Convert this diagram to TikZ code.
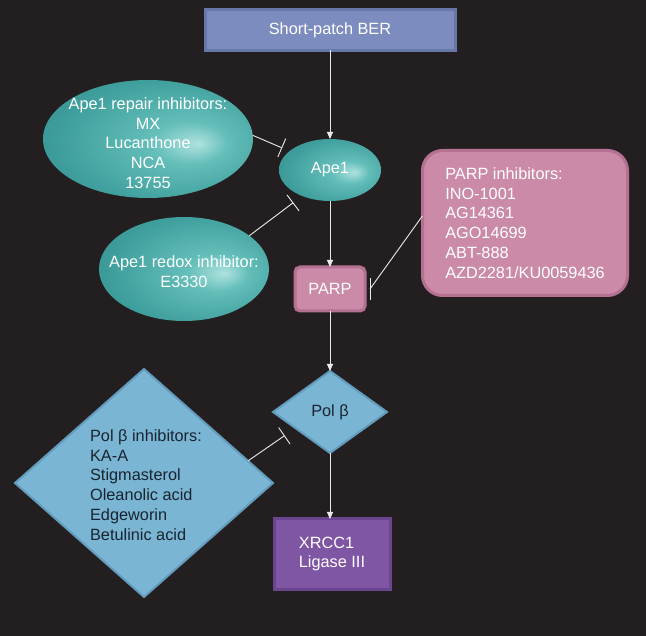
\documentclass[tikz,border=0pt]{standalone}
\usepackage{fontspec}
\setmainfont{Liberation Sans}
\usetikzlibrary{shapes.geometric, arrows.meta, calc, positioning}

\definecolor{bgdark}{RGB}{35,31,32}
\definecolor{berface}{RGB}{124,140,191}
\definecolor{beredge}{RGB}{104,119,170}
\definecolor{tealface}{RGB}{64,160,157}
\definecolor{tealmid}{RGB}{100,190,186}
\definecolor{tealhi}{RGB}{175,226,222}
\definecolor{tealedge}{RGB}{40,128,126}
\definecolor{parpface}{RGB}{203,138,168}
\definecolor{parpedge}{RGB}{180,113,146}
\definecolor{polface}{RGB}{122,181,212}
\definecolor{poledge}{RGB}{98,155,187}
\definecolor{xrccface}{RGB}{126,86,164}
\definecolor{xrccedge}{RGB}{106,70,143}
\definecolor{darktext}{RGB}{25,36,48}
\definecolor{wirecol}{RGB}{235,235,235}

% glossy teal for the Ape1 blobs
\pgfdeclareradialshading{tealglow}{\pgfpoint{12bp}{-2bp}}{%
  color(0bp)=(tealhi); color(9bp)=(tealmid); color(26bp)=(tealface);
  color(46bp)=(tealedge); color(50bp)=(tealedge)}

\tikzset{
  every node/.style={font=\fontsize{16.3}{19.7}\selectfont, text=white, outer sep=0pt},
  box/.style={rectangle, line width=3pt, inner sep=0pt},
  blob/.style={ellipse, shading=tealglow},
  gem/.style={diamond, fill=polface, draw=poledge, line width=2pt, inner sep=0pt, text=darktext},
  arr/.style={draw=wirecol, line width=0.9pt, -{Triangle[length=7pt,width=6pt]}},
  inh/.style={draw=wirecol, line width=0.9pt, -{Bar[width=20pt]}},
  wire/.style={draw=wirecol, line width=0.9pt}
}

\begin{document}
\begin{tikzpicture}[x=1pt, y=-1pt]
  \fill[bgdark] (0,0) rectangle (646,636);
  \useasboundingbox (0,0) rectangle (646,636);

  % main pathway
  \node[box, fill=berface, draw=beredge, minimum width=250pt, minimum height=41pt] (ber) at (330,30) {Short-patch BER};
  \node[blob, minimum width=102pt, minimum height=62pt] (ape) at (330,170) {Ape1};
  \node[box, fill=parpface, draw=parpedge, rounded corners=5pt, minimum width=70pt, minimum height=44pt] (parp) at (330,289) {PARP};
  \node[gem, minimum width=114pt, minimum height=82pt] (pol) at (330,412) {Pol β};
  \node[box, fill=xrccface, draw=xrccedge, minimum width=116pt, minimum height=70pt, align=left] (xrcc) at (332,554) {XRCC1\\Ligase III};

  % inhibitors
  \node[blob, minimum width=210pt, minimum height=118pt] (rep) at (148,139) {};
  \node[align=center] (reptext) at (148,143) {Ape1 repair inhibitors:\\MX\\Lucanthone\\NCA\\13755};
  \node[blob, minimum width=170pt, minimum height=104pt] (redox) at (184,269) {};
  \node[align=center] (redoxtext) at (184,272) {Ape1 redox inhibitor:\\E3330};
  \node[box, fill=parpface, draw=parpedge, rounded corners=20pt, minimum width=205pt, minimum height=145pt, align=left] (pinh) at (525,223) {PARP inhibitors:\\INO-1001\\AG14361\\AGO14699\\ABT-888\\AZD2281/KU0059436};
  \node[gem, minimum width=258pt, minimum height=228pt] (polinh) at (144,483) {};
  \node[align=left, text=darktext] (polinhtext) at (146,485) {Pol β inhibitors:\\KA-A\\Stigmasterol\\Oleanolic acid\\Edgeworin\\Betulinic acid};

  % arrows down the pathway
  \draw[arr] (ber) -- (ape);
  \draw[arr] (ape) -- (parp);
  \draw[arr] (parp) -- (pol);
  \draw[arr] (pol) -- (pol |- xrcc.north);

  % inhibition lines
  \draw[inh, shorten >=8pt] (rep.2) -- (ape.155);
  \draw[inh, shorten >=11pt] (redox.27) -- (ape.223);
  \draw[inh, shorten >=13pt] (polinh.12) -- (pol.205);
  \coordinate (parpbar) at ([xshift=5pt]parp.east);
  \draw[wire] (pinh.176) -- (parpbar);
  \draw[wire] ([yshift=-11pt]parpbar) -- ([yshift=11pt]parpbar);
\end{tikzpicture}
\end{document}
